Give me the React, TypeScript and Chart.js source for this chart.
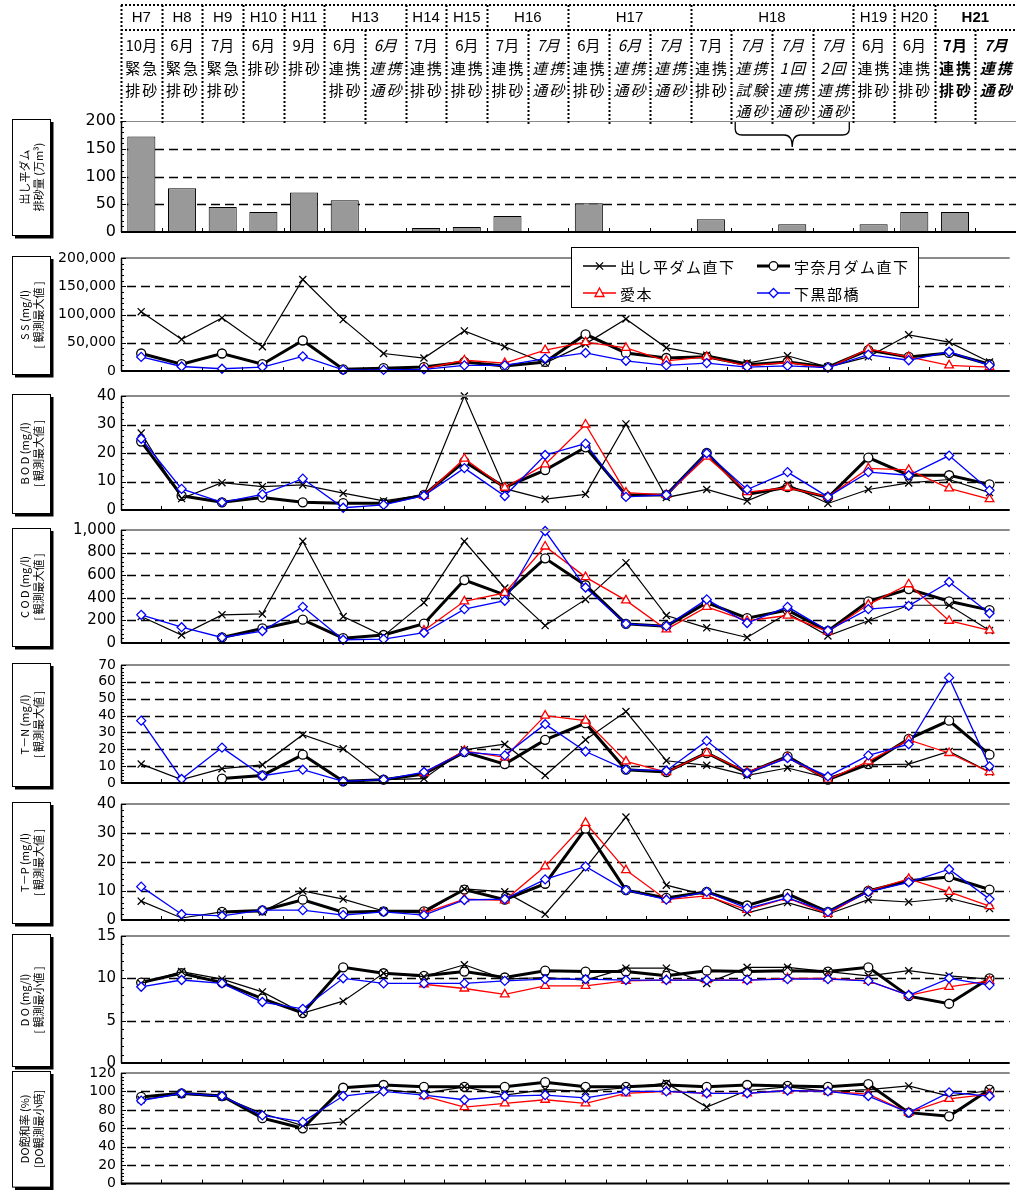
import React, { useEffect, useRef } from "react";
import { Chart, registerables } from "chart.js";
Chart.register(...registerables);

const PAGE_W = 1016;
const PAGE_H = 1197;

// ---------- categories / header ----------
const categories = [
  "H7 10月 緊急排砂", "H8 6月 緊急排砂", "H9 7月 緊急排砂", "H10 6月 排砂", "H11 9月 排砂",
  "H13 6月 連携排砂", "H13 6月 連携通砂", "H14 7月 連携排砂", "H15 6月 連携排砂",
  "H16 7月 連携排砂", "H16 7月 連携通砂", "H17 6月 連携排砂", "H17 6月 連携通砂", "H17 7月 連携通砂",
  "H18 7月 連携排砂", "H18 7月 連携試験通砂", "H18 7月 1回連携通砂", "H18 7月 2回連携通砂",
  "H19 6月 連携排砂", "H20 6月 連携排砂", "H21 7月 連携排砂", "H21 7月 連携通砂",
];
const headerYears = ["H7", "H8", "H9", "H10", "H11", "H13", "H14", "H15", "H16", "H17", "H18", "H19", "H20", "H21"];
const headerYearSpans = [1, 1, 1, 1, 1, 2, 1, 1, 2, 3, 4, 1, 1, 2];
const headerRows: string[][] = [
  ["10月", "緊急", "排砂"], ["6月", "緊急", "排砂"], ["7月", "緊急", "排砂"], ["6月", "排砂"], ["9月", "排砂"],
  ["6月", "連携", "排砂"], ["6月", "連携", "通砂"], ["7月", "連携", "排砂"], ["6月", "連携", "排砂"],
  ["7月", "連携", "排砂"], ["7月", "連携", "通砂"], ["6月", "連携", "排砂"], ["6月", "連携", "通砂"], ["7月", "連携", "通砂"],
  ["7月", "連携", "排砂"], ["7月", "連携", "試験", "通砂"], ["7月", "1回", "連携", "通砂"], ["7月", "2回", "連携", "通砂"],
  ["6月", "連携", "排砂"], ["6月", "連携", "排砂"], ["7月", "連携", "排砂"], ["7月", "連携", "通砂"],
];
const italicColumns = [6, 10, 12, 13, 15, 16, 17, 21];
const boldColumns = [20, 21];
const bracketColumns = [15, 17];

const seriesNames = ["出し平ダム直下", "宇奈月ダム直下", "愛本", "下黒部橋"];
const N = null;

// ---------- data ----------
const sedimentVolume = [172, 79, 45, 36, 71, 57, N, 7, 9, 29, N, 52, N, N, 23, N, 14, N, 14, 36, 36, 1.5];

const ssDashidaira = [105000, 56000, 94000, 43000, 162000, 91000, 31000, 23000, 71000, 43000, 14000, 48000, 92000, 41000, 28000, 14000, 27000, 7000, 25000, 64000, 51000, 16000];
const ssUnazuki = [31000, 12000, 31000, 12000, 54000, 3000, 5000, 7000, 16000, 9000, 16000, 65000, 32000, 23000, 25000, 11000, 16000, 7000, 37000, 25000, 32000, 12000];
const ssAimoto = [N, N, N, N, N, N, N, 4000, 19000, 14000, 37000, 51000, 41000, 18000, 25000, 9000, 15000, 5000, 39000, 25000, 10000, 7000];
const ssShimokurobe = [25000, 8000, 4000, 7000, 26000, 2000, 2000, 3000, 10000, 10000, 22000, 32000, 18000, 10000, 14000, 7000, 9000, 6000, 29000, 19000, 34000, 10000];

const bodDashidaira = [27, 4, 9.6, 8.2, 8.8, 5.9, 3.2, 5.3, 40, 7.5, 3.8, 5.5, 30.2, 4.4, 7.2, 3.2, 9, 2.3, 7.2, 9.5, 10.7, 6.1];
const bodUnazuki = [24, 5, 2.7, 4.4, 2.7, 2.4, 2.4, 5.3, 17, 8, 14, 22, 5.3, 5.3, 20, 5.5, 8, 4.4, 18.4, 12.2, 12.2, 9];
const bodAimoto = [N, N, N, N, N, N, N, 5, 18, 7.8, 16, 30, 6.1, 5.3, 18.7, 6.3, 7.8, 4.6, 14.6, 14.1, 7.6, 3.8];
const bodShimokurobe = [25, 7.4, 2.7, 5.5, 11, 0.8, 1.8, 5, 14.7, 4.9, 19.3, 23.3, 4.6, 5.3, 19.9, 7.2, 13.3, 4.6, 13.3, 12.2, 19.1, 6.9];

const codDashidaira = [234, 71, 249, 257, 900, 234, 63, 357, 900, 487, 154, 386, 711, 243, 134, 49, 263, 63, 197, 334, 334, 111];
const codUnazuki = [N, N, 49, 129, 206, 43, 71, 171, 557, 426, 749, 511, 169, 149, 357, 220, 291, 106, 369, 477, 369, 291];
const codAimoto = [N, N, N, N, N, N, N, 111, 369, 443, 854, 583, 377, 120, 320, 197, 243, 100, 340, 520, 197, 111];
const codShimokurobe = [249, 140, 49, 106, 320, 29, 34, 91, 300, 374, 991, 491, 169, 149, 386, 177, 320, 111, 300, 329, 540, 263];

const tnDashidaira = [11.2, 2, 8.5, 10.8, 28.6, 20.3, 2, 2.6, 19.7, 23, 4.5, 25.6, 42.4, 13.2, 10.5, 4.5, 8.9, 3, 10.8, 11.2, 18.7, 6.5];
const tnUnazuki = [N, N, 2.6, 4.5, 16.8, 1, 2, 5.3, 18.3, 11.2, 25.6, 35.5, 7.9, 6.5, 17.8, 5.9, 15.8, 2, 11.2, 26.2, 37, 16.8];
const tnAimoto = [N, N, N, N, N, N, N, 5.9, 19.1, 15.2, 40, 37, 12.8, 6.5, 17.8, 6.5, 15.2, 2, 12.8, 25.6, 17.8, 6.5];
const tnShimokurobe = [37, 2.4, 21, 4.3, 7.9, 1, 2, 6.5, 18.3, 16.4, 34.9, 18.7, 7.9, 7.3, 25, 5.9, 14.8, 3.9, 16.4, 23, 62.5, 9.9];

const tpDashidaira = [6.5, 0.7, 2.8, 2.8, 10, 7.2, 3.1, 2.4, 10.7, 9.7, 2, 18, 35.5, 12, 8.5, 2.5, 6, 2, 7, 6.2, 7.5, 4];
const tpUnazuki = [N, N, 2.8, 3.3, 7, 2.7, 3, 3, 10.5, 7, 12.5, 31.5, 10.3, 7.6, 9.7, 5, 9, 2.8, 10, 13.5, 14.8, 10.5];
const tpAimoto = [N, N, N, N, N, N, N, 2.4, 7.2, 6.8, 18.5, 33.5, 17.2, 7, 8.3, 3.5, 7.6, 2.1, 10, 14.2, 9.7, 4.8];
const tpShimokurobe = [11.5, 2, 1.4, 3.4, 3.4, 1.7, 2.8, 1.7, 6.9, 7.2, 14, 18.5, 10.3, 7, 9.7, 4, 7.6, 2.8, 9.7, 13, 17.5, 7.2];

const doDashidaira = [9.4, 10.8, 9.9, 8.4, 5.9, 7.3, 10.6, 10.2, 11.6, 9.9, 10.1, 9.8, 11.2, 11.2, 9.4, 11.3, 11.3, 10.8, 10.3, 10.9, 10.3, 9.9];
const doUnazuki = [9.5, 10.6, 9.5, 7.6, 5.9, 11.3, 10.6, 10.3, 10.8, 10.1, 10.9, 10.8, 10.8, 10.3, 10.9, 10.8, 10.9, 10.8, 11.3, 7.9, 7.0, 10.0];
const doAimoto = [N, N, N, N, N, N, N, 9.3, 8.8, 8.1, 9.1, 9.1, 9.7, 9.8, 9.8, 9.8, 10.0, 10.0, 9.7, 8.0, 9.0, 9.7];
const doShimokurobe = [9.0, 9.8, 9.4, 7.2, 6.4, 10.0, 9.4, 9.4, 9.4, 9.7, 9.9, 9.9, 9.8, 9.8, 9.8, 9.8, 9.9, 9.9, 9.7, 8.0, 10.0, 9.2];

const dosDashidaira = [91, 97, 94, 76, 63, 67, 102, 98, 105, 96, 102, 100, 104, 109, 83, 101, 105, 100, 102, 106, 95, 101];
const dosUnazuki = [94, 98, 95, 71, 60, 104, 107, 105, 105, 105, 110, 105, 105, 107, 105, 107, 106, 105, 108, 77, 73, 102];
const dosAimoto = [N, N, N, N, N, N, N, 95, 83, 87, 91, 87, 98, 100, 98, 98, 101, 100, 97, 77, 92, 97];
const dosShimokurobe = [90, 98, 95, 74, 67, 95, 100, 96, 91, 95, 96, 93, 100, 100, 98, 98, 101, 100, 95, 77, 99, 95];

type Series = (number | null)[];
type PanelDef = {
  kind: "bar" | "line";
  top: number; bottom: number;
  min: number; max: number; step: number;
  font: number;
  title: [string, string];
  series: Series[];
  header?: boolean; legend?: boolean;
};

const panels: PanelDef[] = [
  { kind: "bar", top: 121, bottom: 232, min: 0, max: 200, step: 50, font: 16, title: ["出し平ダム", "排砂量 (万m³)"], series: [sedimentVolume], header: true },
  { kind: "line", top: 258, bottom: 371, min: 0, max: 200000, step: 50000, font: 14, title: ["S S (mg/l)", "[ 観測最大値 ]"], series: [ssDashidaira, ssUnazuki, ssAimoto, ssShimokurobe], legend: true },
  { kind: "line", top: 396, bottom: 510, min: 0, max: 40, step: 10, font: 15, title: ["B O D (mg/l)", "[ 観測最大値 ]"], series: [bodDashidaira, bodUnazuki, bodAimoto, bodShimokurobe] },
  { kind: "line", top: 530, bottom: 643, min: 0, max: 1000, step: 200, font: 15, title: ["C O D (mg/l)", "[ 観測最大値 ]"], series: [codDashidaira, codUnazuki, codAimoto, codShimokurobe] },
  { kind: "line", top: 665, bottom: 783, min: 0, max: 70, step: 10, font: 14, title: ["T－N (mg/l)", "[ 観測最大値 ]"], series: [tnDashidaira, tnUnazuki, tnAimoto, tnShimokurobe] },
  { kind: "line", top: 804, bottom: 920, min: 0, max: 40, step: 10, font: 15, title: ["T－P (mg/l)", "[ 観測最大値 ]"], series: [tpDashidaira, tpUnazuki, tpAimoto, tpShimokurobe] },
  { kind: "line", top: 936, bottom: 1063, min: 0, max: 15, step: 5, font: 15, title: ["D O (mg/l)", "[ 観測最小値 ]"], series: [doDashidaira, doUnazuki, doAimoto, doShimokurobe] },
  { kind: "line", top: 1073, bottom: 1188, min: 0, max: 120, step: 20, font: 14, title: ["DO飽和率 (%)", "[DO観測最小時]"], series: [dosDashidaira, dosUnazuki, dosAimoto, dosShimokurobe] },
];

const COLORS = ["#000000", "#000000", "#ff0000", "#0000ff"];
const JP = '"Noto Sans CJK JP"';

function lineDatasets(d: Series[]) {
  const base = { tension: 0, fill: false, clip: 12, pointBackgroundColor: "#ffffff", pointBorderWidth: 1.3, pointHoverRadius: 0 };
  return [
    { ...base, label: seriesNames[0], data: d[0], borderColor: COLORS[0], borderWidth: 1.2, pointStyle: "crossRot", pointRadius: 5, pointBorderColor: COLORS[0], order: 2 },
    { ...base, label: seriesNames[1], data: d[1], borderColor: COLORS[1], borderWidth: 3, pointStyle: "circle", pointRadius: 4.5, pointBorderColor: COLORS[1], order: 3 },
    { ...base, label: seriesNames[2], data: d[2], borderColor: COLORS[2], borderWidth: 1.3, pointStyle: "triangle", pointRadius: 5, pointBorderColor: COLORS[2], order: 1 },
    { ...base, label: seriesNames[3], data: d[3], borderColor: COLORS[3], borderWidth: 1.3, pointStyle: "rectRot", pointRadius: 4.5, pointBorderColor: COLORS[3], order: 0 },
  ];
}

function seg(ctx: CanvasRenderingContext2D, x1: number, y1: number, x2: number, y2: number) {
  ctx.beginPath(); ctx.moveTo(x1, y1); ctx.lineTo(x2, y2); ctx.stroke();
}

function drawMarker(ctx: CanvasRenderingContext2D, k: number, cx: number, cy: number) {
  ctx.save();
  ctx.strokeStyle = COLORS[k]; ctx.fillStyle = "#fff"; ctx.lineWidth = 1.3; ctx.setLineDash([]);
  ctx.beginPath();
  if (k === 0) {
    const r = 3.6;
    ctx.moveTo(cx - r, cy - r); ctx.lineTo(cx + r, cy + r); ctx.moveTo(cx + r, cy - r); ctx.lineTo(cx - r, cy + r); ctx.stroke();
  } else if (k === 1) {
    ctx.arc(cx, cy, 4.3, 0, Math.PI * 2); ctx.fill(); ctx.stroke();
  } else if (k === 2) {
    ctx.moveTo(cx, cy - 5); ctx.lineTo(cx + 4.5, cy + 3.5); ctx.lineTo(cx - 4.5, cy + 3.5); ctx.closePath(); ctx.fill(); ctx.stroke();
  } else {
    ctx.moveTo(cx, cy - 4.5); ctx.lineTo(cx + 4.5, cy); ctx.lineTo(cx, cy + 4.5); ctx.lineTo(cx - 4.5, cy); ctx.closePath(); ctx.fill(); ctx.stroke();
  }
  ctx.restore();
}

function drawLegend(chart: any) {
  const { ctx, chartArea: a } = chart;
  const bx = a.left + 450, by = a.top - 11, bw = 347, bh = 60;
  ctx.save();
  ctx.fillStyle = "#fff"; ctx.fillRect(bx, by, bw, bh);
  ctx.strokeStyle = "#000"; ctx.lineWidth = 1; ctx.setLineDash([]);
  ctx.strokeRect(bx + 0.5, by + 0.5, bw, bh);
  const cols = [bx + 12, bx + 186];
  const rows = [by + 19, by + 46];
  for (let k = 0; k < 4; k++) {
    const lx = cols[k % 2], ly = rows[Math.floor(k / 2)];
    ctx.strokeStyle = COLORS[k]; ctx.lineWidth = k === 1 ? 3 : 1.3;
    seg(ctx, lx, ly, lx + 33, ly);
    drawMarker(ctx, k, lx + 16.5, ly);
    ctx.fillStyle = "#000"; ctx.font = `15px ${JP}`; ctx.textAlign = "left"; ctx.textBaseline = "middle";
    try { (ctx as any).letterSpacing = "1.5px"; } catch (e) {}
    ctx.fillText(seriesNames[k], lx + 37, ly + 1);
    try { (ctx as any).letterSpacing = "0px"; } catch (e) {}
  }
  ctx.restore();
}

function drawHeader(chart: any) {
  const { ctx, chartArea: a, scales } = chart;
  const x = scales.x;
  const cw = x.getPixelForValue(1) - x.getPixelForValue(0);
  const edge = (i: number) => x.getPixelForValue(i) - cw / 2;
  const topY = a.top - 116, rowY = a.top - 91;
  ctx.save();
  ctx.fillStyle = "#fff"; ctx.fillRect(edge(0), topY, PAGE_W - edge(0), a.top - topY);
  ctx.strokeStyle = "#000"; ctx.lineWidth = 2; ctx.setLineDash([2, 2]);
  seg(ctx, edge(0), topY, PAGE_W, topY);
  seg(ctx, edge(0), rowY, PAGE_W, rowY);
  const yearStart: number[] = [];
  let c = 0;
  headerYearSpans.forEach((s) => { yearStart.push(c); c += s; });
  for (let i = 0; i <= categories.length; i++) {
    const ex = Math.round(edge(i)) + 0.5;
    if (ex > PAGE_W) continue;
    seg(ctx, ex, yearStart.includes(i) ? topY : rowY, ex, a.top + 3);
  }
  ctx.setLineDash([]);
  ctx.fillStyle = "#000"; ctx.textAlign = "center"; ctx.textBaseline = "middle";
  c = 0;
  headerYears.forEach((yl, k) => {
    const s = headerYearSpans[k];
    const cx = (edge(c) + edge(c + s)) / 2;
    ctx.font = `${boldColumns.includes(c) ? "bold " : ""}15px "Liberation Sans"`;
    ctx.fillText(yl, cx, topY + 13);
    c += s;
  });
  const rowOffsets = [-76, -53, -31, -10];
  headerRows.forEach((rows, i) => {
    const cx = x.getPixelForValue(i);
    const it = italicColumns.includes(i), bd = boldColumns.includes(i);
    rows.forEach((t, r) => {
      ctx.font = `${it ? "italic " : ""}${bd ? "bold " : ""}15px ${JP}`;
      const sp = /月/.test(t) ? 0 : 2;
      try { (ctx as any).letterSpacing = sp + "px"; } catch (e) {}
      ctx.fillText(t, cx + sp / 2, a.top + rowOffsets[r]);
    });
  });
  try { (ctx as any).letterSpacing = "0px"; } catch (e) {}
  // curly bracket under the three trial columns
  const x1 = edge(bracketColumns[0]) + 4, x2 = edge(bracketColumns[1] + 1) - 4, mid = (x1 + x2) / 2;
  const t0 = a.top + 1, h = a.top + 14, p = a.top + 26;
  ctx.strokeStyle = "#000"; ctx.lineWidth = 1.3;
  ctx.beginPath();
  ctx.moveTo(x1, t0); ctx.lineTo(x1, h - 6); ctx.quadraticCurveTo(x1, h, x1 + 7, h);
  ctx.lineTo(mid - 8, h); ctx.quadraticCurveTo(mid, h, mid, p);
  ctx.quadraticCurveTo(mid, h, mid + 8, h); ctx.lineTo(x2 - 7, h);
  ctx.quadraticCurveTo(x2, h, x2, h - 6); ctx.lineTo(x2, t0);
  ctx.stroke();
  ctx.restore();
}

function decorPlugin(p: PanelDef) {
  return {
    id: "decor",
    beforeDatasetsDraw(chart: any) {
      const { ctx, chartArea: a, scales } = chart;
      const y = scales.y;
      ctx.save();
      ctx.strokeStyle = "#000"; ctx.lineWidth = 1.3; ctx.setLineDash([9, 5]);
      for (let v = p.min + p.step; v < p.max - p.step * 0.01; v += p.step) {
        const py = Math.round(y.getPixelForValue(v)) + 0.5;
        seg(ctx, a.left + 6, py, a.right, py);
      }
      ctx.restore();
    },
    afterDraw(chart: any) {
      const { ctx, chartArea: a, scales } = chart;
      const y = scales.y, x = scales.x;
      ctx.save();
      ctx.setLineDash([]);
      // top border
      ctx.strokeStyle = "#8a8a8a"; ctx.lineWidth = 2;
      seg(ctx, a.left, a.top, a.right, a.top);
      // axes
      ctx.strokeStyle = "#000"; ctx.lineWidth = 2;
      seg(ctx, a.left, a.bottom, a.right, a.bottom);
      ctx.lineWidth = 1.5;
      seg(ctx, a.left + 0.5, a.top, a.left + 0.5, a.bottom);
      // y ticks (inside)
      ctx.lineWidth = 1;
      const minor = p.step / 5;
      for (let v = p.min; v <= p.max + 1e-9; v += minor) {
        const py = Math.round(y.getPixelForValue(v)) + 0.5;
        const major = Math.abs(v / p.step - Math.round(v / p.step)) < 1e-6;
        seg(ctx, a.left, py, a.left + (major ? 5 : 3), py);
      }
      // category boundary ticks
      const cw = x.getPixelForValue(1) - x.getPixelForValue(0);
      for (let i = 1; i < categories.length; i++) {
        const ex = Math.round(x.getPixelForValue(i) - cw / 2) + 0.5;
        seg(ctx, ex, a.bottom, ex, a.bottom - 4);
      }
      // title box
      const bx = 12, bw = 38, bt = a.top - 2, bb = a.bottom + 3;
      ctx.fillStyle = "#fff"; ctx.fillRect(bx, bt, bw, bb - bt);
      ctx.strokeStyle = "#000"; ctx.lineWidth = 1;
      ctx.strokeRect(bx + 0.5, bt + 0.5, bw, bb - bt);
      ctx.lineWidth = 3;
      ctx.beginPath(); ctx.moveTo(bx + bw + 2, bt + 3); ctx.lineTo(bx + bw + 2, bb + 2); ctx.lineTo(bx + 3, bb + 2); ctx.stroke();
      ctx.translate(bx + 13, (bt + bb) / 2);
      ctx.rotate(-Math.PI / 2);
      ctx.fillStyle = "#000"; ctx.textAlign = "center"; ctx.textBaseline = "middle";
      ctx.font = `11px ${JP}`;
      ctx.fillText(p.title[0], 0, 0);
      ctx.fillText(p.title[1], 0, 14);
      ctx.restore();
      if (p.header) drawHeader(chart);
      if (p.legend) drawLegend(chart);
    },
  };
}

function buildConfig(p: PanelDef): any {
  const datasets = p.kind === "bar"
    ? [{ label: "排砂量", data: p.series[0], backgroundColor: "#999999", borderColor: "#000", borderWidth: 1, barPercentage: 0.69, categoryPercentage: 1 }]
    : lineDatasets(p.series);
  return {
    type: p.kind,
    data: { labels: categories, datasets },
    options: {
      animation: false,
      responsive: false,
      devicePixelRatio: 1,
      layout: { padding: { top: p.top, bottom: PAGE_H - p.bottom, left: 0, right: 0 } },
      plugins: { legend: { display: false }, tooltip: { enabled: false } },
      events: [],
      scales: {
        x: {
          type: "category", offset: true,
          grid: { display: false, drawTicks: false }, border: { display: false },
          ticks: { display: false },
          afterFit: (s: any) => { s.height = 0; },
        },
        y: {
          min: p.min, max: p.max,
          grid: { display: false, drawTicks: false }, border: { display: false },
          afterFit: (s: any) => { s.width = 121; },
          ticks: {
            stepSize: p.step, color: "#000", padding: 5, autoSkip: false,
            font: { family: "DejaVu Sans", size: p.font },
            callback: (v: any) => Number(v).toLocaleString("en-US"),
          },
        },
      },
    },
    plugins: [decorPlugin(p)],
  };
}

function PanelCanvas({ panel }: { panel: PanelDef }) {
  const ref = useRef<HTMLCanvasElement>(null);
  useEffect(() => {
    if (!ref.current) return;
    const chart = new Chart(ref.current, buildConfig(panel));
    return () => chart.destroy();
  }, [panel]);
  return (
    <canvas ref={ref} width={PAGE_W} height={PAGE_H}
      style={{ position: "absolute", left: 0, top: 0, width: PAGE_W, height: PAGE_H }} />
  );
}

export default function App() {
  return (
    <div style={{ position: "absolute", left: 0, top: 0, width: PAGE_W, height: PAGE_H, background: "#fff", overflow: "hidden" }}>
      {panels.map((p, i) => <PanelCanvas key={i} panel={p} />)}
    </div>
  );
}
